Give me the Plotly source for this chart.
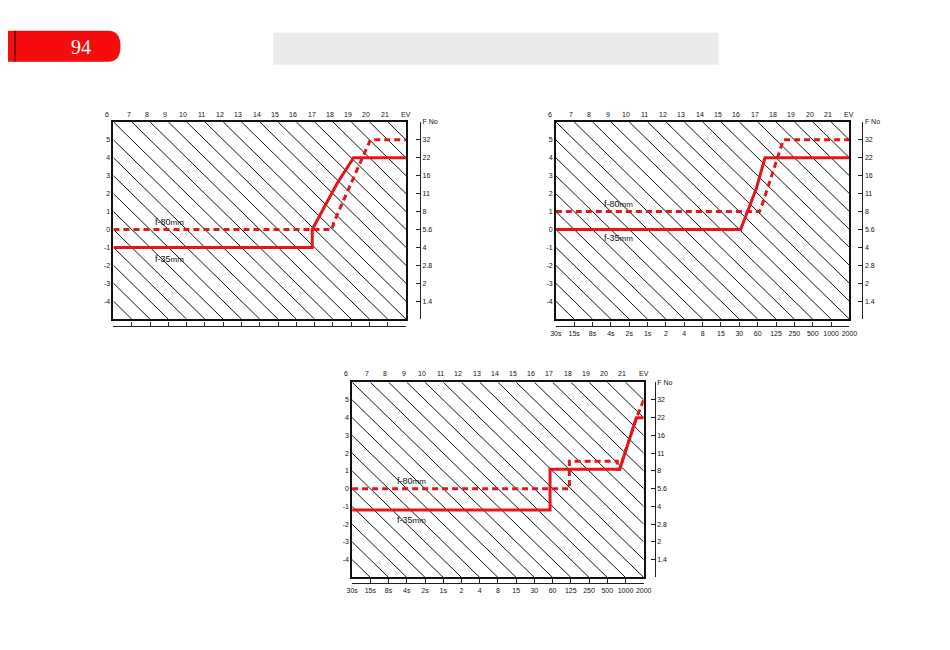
import plotly.graph_objects as go

# figure size and the measured placement of the figure inside the photographed page
W, H = 934, 634
SX, OX = 0.9864, 13.4     # photographed x = SX * figure_x + OX
SY, OY = 0.9926, 12.2     # photographed y = SY * figure_y + OY

# ---------------- data ----------------
ev_labels = [str(v) for v in range(6, 22)] + ["EV"]          # top scale
ev_pos = [-0.33] + [k - 0.17 for k in range(1, 16)] + [16]
shutter_labels = ["30s", "15s", "8s", "4s", "2s", "1s", "2", "4", "8", "15",
                  "30", "60", "125", "250", "500", "1000", "2000"]
shutter_pos = list(range(0, 17))
av_vals = [-4, -3, -2, -1, 0, 1, 2, 3, 4, 5]
av_labels = ["-4", "-3", "-2", "-1", "0", "1", "2", "3", "4", "5"]
fno_vals = [-5, -4, -3, -2, -1, 0, 1, 2, 3, 4, 5, 6]
fno_labels = ["", "1.4", "2", "2.8", "4", "5.6", "8", "11", "16", "22", "32", "F No"]
hatch_ev = list(range(-4, 22))   # constant-EV diagonals (x + y = ev)

# chart 1 (top-left)
c1_solid_x = [0, 10.87, 10.87, 12.25, 13.13, 16]
c1_solid_y = [-1, -1, 0, 2.6, 4, 4]
c1_dash_x = [0, 11.95, 12.05, 14.05, 16]
c1_dash_y = [0, 0, 0.4, 5, 5]

# chart 2 (top-right)
c2_solid_x = [0, 10.07, 10.93, 11.4, 16]
c2_solid_y = [0, 0, 2.3, 4, 4]
c2_dash_x = [0, 11.1, 11.25, 12.4, 16]
c2_dash_y = [1, 1, 1.4, 5, 5]

# chart 3 (bottom)
c3_solid_x = [0, 10.86, 10.86, 14.68, 15.6, 16]
c3_solid_y = [-1.2, -1.2, 1.1, 1.1, 4, 4]
c3_dash_x = [0, 11.92, 11.92, 14.55, 14.55, 14.68, 15.6, 16]
c3_dash_y = [0, 0, 1.55, 1.55, 1.1, 1.1, 4, 5]

label_80 = "f-80<span style='font-size:8px'>mm</span>"
label_35 = "f-35<span style='font-size:8px'>mm</span>"
c1_text = [(2.17, 0.43, label_80), (2.17, -1.65, label_35)]
c2_text = [(2.5, 1.42, label_80), (2.5, -0.5, label_35)]
c3_text = [(2.35, 0.42, label_80), (2.35, -1.75, label_35)]

XR = [0, 16]
YR = [-5, 6]

# ---------------- layout helpers ----------------
def px(x):
    return ((x - OX) / SX) / W

def py(y):
    return 1 - ((y - OY) / SY) / H

RED = "#e3161b"
FONT = "Liberation Sans, Arial, sans-serif"
TXT = "#111111"
TICKFONT = dict(size=7, color=TXT, family=FONT)

charts = [
    # box (left, top, right, bottom), bottom-axis y, right-axis x, top-label y
    dict(box=(113, 122, 406, 319), bot=326, right=420, top=115, blabels=False,
         solid=(c1_solid_x, c1_solid_y), dash=(c1_dash_x, c1_dash_y), text=c1_text),
    dict(box=(556, 122, 850, 319), bot=326, right=863, top=115, blabels=True,
         solid=(c2_solid_x, c2_solid_y), dash=(c2_dash_x, c2_dash_y), text=c2_text),
    dict(box=(352, 382, 644, 577), bot=583, right=655, top=373, blabels=True,
         solid=(c3_solid_x, c3_solid_y), dash=(c3_dash_x, c3_dash_y), text=c3_text),
]

fig = go.Figure()
layout = dict(width=W, height=H, margin=dict(l=0, r=0, t=0, b=0), autosize=False,
              paper_bgcolor="white", plot_bgcolor="white", showlegend=False,
              font=dict(family=FONT, size=7, color=TXT))
annotations = []
shapes = []

# hatch segments, clipped to the frame
hx, hy = [], []
for c in hatch_ev:
    x0 = max(XR[0], c - YR[1])
    x1 = min(XR[1], c - YR[0])
    if x0 < x1:
        hx += [x0, x1, None]
        hy += [c - x0, c - x1, None]

for i, ch in enumerate(charts):
    n_main = 2 * i + 1
    n_over = 2 * i + 2
    xm = "x" if n_main == 1 else f"x{n_main}"
    ym = "y" if n_main == 1 else f"y{n_main}"
    xo = f"x{n_over}"
    yo = f"y{n_over}"
    L, T, R, B = ch["box"]
    xdom = [px(L), px(R)]
    ydom = [py(B), py(T)]

    fig.add_trace(go.Scatter(x=hx, y=hy, mode="lines", xaxis=xm, yaxis=ym,
                             line=dict(color="#141414", width=1), hoverinfo="skip"))
    fig.add_trace(go.Scatter(x=ch["dash"][0], y=ch["dash"][1], mode="lines", xaxis=xm, yaxis=ym,
                             line=dict(color=RED, width=3, dash="6px,4px")))
    fig.add_trace(go.Scatter(x=ch["solid"][0], y=ch["solid"][1], mode="lines", xaxis=xm, yaxis=ym,
                             line=dict(color=RED, width=3)))
    fig.add_trace(go.Scatter(x=[None], y=[None], mode="lines", xaxis=xo, yaxis=yo,
                             hoverinfo="skip"))

    main_x = dict(domain=xdom, range=XR, side="top", anchor=ym,
                  showticklabels=False, ticks="", showgrid=False, zeroline=False,
                  showline=True, mirror=True, linecolor="#111111", linewidth=1.6,
                  fixedrange=True)
    main_y = dict(domain=ydom, range=YR, anchor=xm, side="left",
                  tickmode="array", tickvals=av_vals, ticktext=av_labels, ticks="",
                  showgrid=False, zeroline=False, showline=True, mirror=True,
                  linecolor="#111111", linewidth=1.6, tickfont=TICKFONT, fixedrange=True)
    over_x = dict(overlaying=xm, range=XR, anchor="free", position=py(ch["bot"]),
                  side="bottom", tickmode="array", tickvals=shutter_pos,
                  ticktext=shutter_labels if ch["blabels"] else [""] * len(shutter_pos),
                  ticks="inside", ticklen=4, tickcolor="#222222", tickwidth=1,
                  showgrid=False, zeroline=False, showline=True, linecolor="#222222",
                  linewidth=1.2, tickfont=TICKFONT, fixedrange=True)
    over_y = dict(overlaying=ym, range=YR, anchor="free", position=px(ch["right"]),
                  side="right", tickmode="array", tickvals=fno_vals, ticktext=fno_labels,
                  ticks="inside", ticklen=4, tickcolor="#222222", tickwidth=1,
                  showgrid=False, zeroline=False, showline=True, linecolor="#222222",
                  linewidth=1.2, tickfont=TICKFONT, fixedrange=True)

    layout["xaxis" if n_main == 1 else f"xaxis{n_main}"] = main_x
    layout["yaxis" if n_main == 1 else f"yaxis{n_main}"] = main_y
    layout[f"xaxis{n_over}"] = over_x
    layout[f"yaxis{n_over}"] = over_y

    # top EV scale (paper-referenced so the label left of the frame is kept)
    for lab, pos in zip(ev_labels, ev_pos):
        xpix = L + (pos - XR[0]) / (XR[1] - XR[0]) * (R - L)
        annotations.append(dict(x=px(xpix), y=py(ch["top"]), xref="paper", yref="paper",
                                text=lab, showarrow=False, xanchor="center",
                                yanchor="middle", font=TICKFONT))

    for (tx, ty, tt) in ch["text"]:
        annotations.append(dict(x=tx, y=ty, xref=xm, yref=ym, text=tt, showarrow=False,
                                xanchor="left", yanchor="middle",
                                font=dict(size=9, color=TXT, family=FONT)))

# page header decorations
banner = (f"M {px(4)},{py(31)} L {px(108)},{py(31)} "
          f"Q {px(120)},{py(31)} {px(120)},{py(46.5)} "
          f"Q {px(120)},{py(62)} {px(108)},{py(62)} "
          f"L {px(4)},{py(62)} Z")
shapes.append(dict(type="path", path=banner, xref="paper", yref="paper",
                   fillcolor="#f50d0d", line=dict(width=0), layer="above"))
shapes.append(dict(type="line", x0=px(14.4), x1=px(14.4), y0=py(31), y1=py(62),
                   xref="paper", yref="paper", line=dict(color="#3a0000", width=1.2)))
shapes.append(dict(type="rect", x0=px(273), x1=px(719), y0=py(65), y1=py(33),
                   xref="paper", yref="paper", fillcolor="#ebebeb", line=dict(width=0),
                   layer="below"))
annotations.append(dict(x=px(80), y=py(47), xref="paper", yref="paper", text="94",
                        showarrow=False, xanchor="center", yanchor="middle",
                        font=dict(size=20, color="white",
                                  family="Liberation Serif, DejaVu Serif, serif")))

layout["annotations"] = annotations
layout["shapes"] = shapes
fig.update_layout(**layout)

fig.write_html("out.html")
